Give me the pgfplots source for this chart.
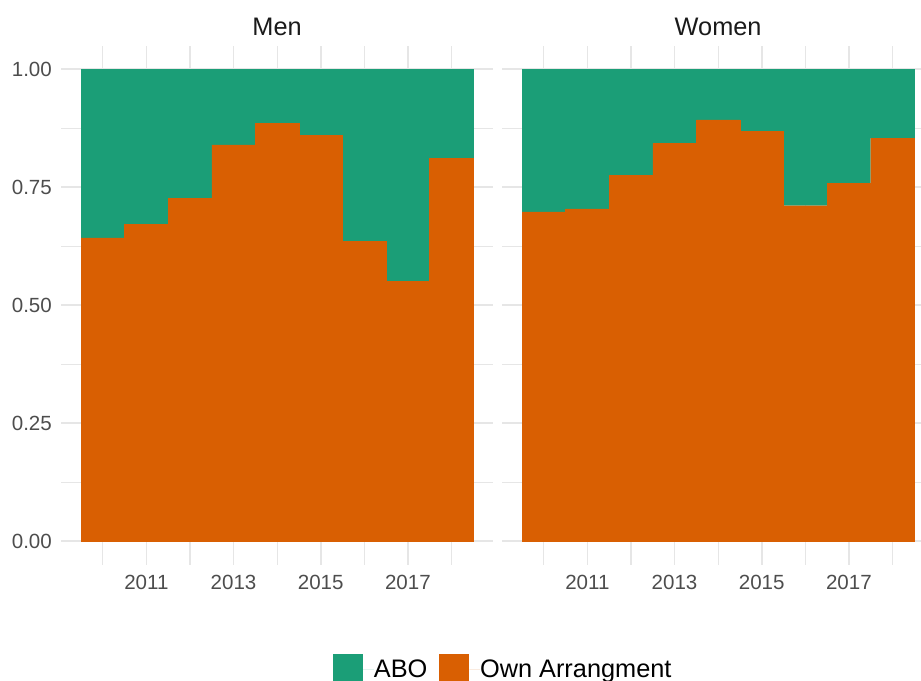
\documentclass[border=0pt]{standalone}
\usepackage{fontspec}
\setmainfont{Liberation Sans}
\usepackage{pgfplots}
\usepackage{pgfplotstable}
\pgfplotsset{compat=1.18}
\definecolor{abo}{HTML}{1B9E77}
\definecolor{own}{HTML}{D95F02}
\definecolor{gridc}{HTML}{E6E6E6}
\definecolor{ticklab}{HTML}{4D4D4D}
\definecolor{strip}{HTML}{1A1A1A}

\pgfplotstableread{
year own abo
2010 0.643 0.357
2011 0.671 0.329
2012 0.727 0.273
2013 0.840 0.160
2014 0.885 0.115
2015 0.860 0.140
2016 0.635 0.365
2017 0.551 0.449
2018 0.811 0.189
}\mentab

\pgfplotstableread{
year own abo
2010 0.698 0.302
2011 0.704 0.296
2012 0.776 0.224
2013 0.843 0.157
2014 0.893 0.107
2015 0.869 0.131
2016 0.711 0.289
2017 0.758 0.242
2018 0.854 0.146
}\womentab

\pgfplotsset{panel/.style={
  scale only axis, width=323.6pt, height=389.4pt,
  xmin=2009.05, xmax=2018.95, ymin=-0.05, ymax=1.05,
  enlargelimits=false,
  axis line style={draw=none},
  major tick length=0pt, minor tick length=0pt,
  grid=both,
  major grid style={color=gridc, line width=1.2pt},
  minor grid style={color=gridc, line width=0.9pt},
  xtick={2011,2013,2015,2017}, xticklabels={2011,2013,2015,2017},
  minor xtick={2010,2012,2014,2016,2018},
  ytick={0,0.25,0.5,0.75,1},
  minor ytick={0.125,0.375,0.625,0.875},
  ybar stacked, bar width=1,
  /pgf/number format/assume math mode=true,
  every tick label/.append style={font=\fontsize{15.4}{18}\selectfont, color=ticklab, inner sep=0pt},
  xticklabel style={anchor=north, yshift=-7.5pt},
  yticklabel style={anchor=east, xshift=-7pt},
  title style={at={(0.5,1)}, anchor=base, yshift=2pt, font=\fontsize{19}{22}\selectfont, color=strip},
}}

\begin{document}
\begin{tikzpicture}
\begin{axis}[panel, at={(46.05pt,87.08pt)}, anchor=south west,
  title={Men},
  yticklabels={0.00,0.25,0.50,0.75,1.00},
  legend columns=-1,
  legend image code/.code={\fill[#1] (0pt,-11.25pt) rectangle (22.5pt,11.25pt); \path (22.5pt,0pt) -- (30.5pt,0pt);},
  legend style={at={(0.630,-0.201)}, anchor=west, draw=none, fill=none, inner sep=0pt, outer sep=0pt,
    font=\fontsize{19}{22}\selectfont, text=black,
    nodes={inner sep=0pt},
    /tikz/every even column/.append style={column sep=9pt}},
]
\addlegendimage{fill=abo, draw=none}
\addlegendentry{ABO}
\addlegendimage{fill=own, draw=none}
\addlegendentry{Own Arrangment}
\addplot[fill=own, draw=own, line width=0.25pt, forget plot] table[x=year, y=own] {\mentab};
\addplot[fill=abo, draw=abo, line width=0.25pt, forget plot] table[x=year, y=abo] {\mentab};
\end{axis}
\begin{axis}[panel, at={(376.8pt,87.08pt)}, anchor=south west,
  title={Women},
  yticklabels={},
]
\addplot[fill=own, draw=own, line width=0.25pt, forget plot] table[x=year, y=own] {\womentab};
\addplot[fill=abo, draw=abo, line width=0.25pt, forget plot] table[x=year, y=abo] {\womentab};
\end{axis}
\pgfresetboundingbox
\useasboundingbox (0pt,0pt) rectangle (690.75pt,510.75pt);
\end{tikzpicture}
\end{document}
